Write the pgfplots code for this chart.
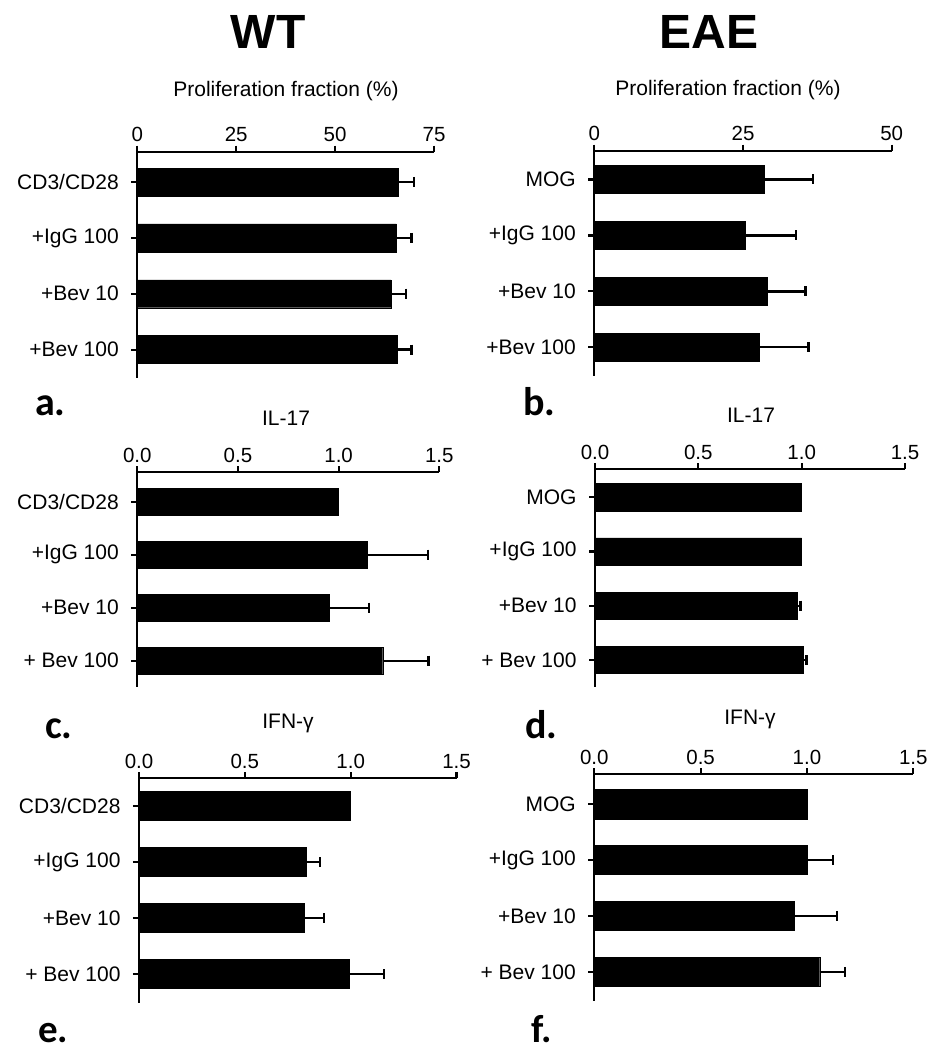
\documentclass[border=0pt]{standalone}
\usepackage{pgfplots}
\pgfplotsset{compat=1.18}
\usepackage{fontspec}
\setmainfont{Liberation Sans}
\newfontfamily\letterfont{Carlito}
\newcommand\labfont{\fontsize{21}{25}\selectfont}
\newcommand\tickfont{\fontsize{20.5}{24}\selectfont}
\begin{document}
\begin{tikzpicture}[x=1pt,y=1pt]
\useasboundingbox (0,0) rectangle (931,-1051);
\pgfplotsset{
  panel/.style={
    scale only axis, xbar, y dir=reverse,
    axis x line=top, axis y line=left,
    axis line style={line width=2.2pt,-},
    tick style={line width=2.2pt,black},
    tick align=outside, major tick length=6pt,
    minor tick num=0,
    ytick={0,1,2,3},
    xmin=0,
    xticklabel style={font=\tickfont},
    yticklabel style={font=\labfont, xshift=-9pt},
    /pgf/number format/assume math mode=true,
    bar width=0.5, bar shift=0pt,
    anchor=north west,
    clip=false,
  },
  bars/.style={fill=black, draw=black, line width=0.4pt, bar shift=0pt},
  eb/.style={fill=black, draw=black, line width=0.4pt, bar shift=0pt,
    error bars/x dir=plus, error bars/x explicit,
    error bars/error bar style={line width=2.4pt,black,solid},
    error bars/error mark=|,
    error bars/error mark options={rotate=0,line width=2.4pt,black,mark size=5pt}},
}
% ---------------- a ----------------
\begin{axis}[panel, at={(137.3pt,-151.7pt)}, width=296.7pt, height=226.3pt,
  xmax=75, xtick={0,25,50,75}, ymin=-0.542, ymax=3.508,
  yticklabels={CD3/CD28,+IgG 100,+Bev 10,+Bev 100}]
\addplot[eb] coordinates {(65.9,0) +- (4.0,0) (65.5,1) +- (3.8,0) (64.1,2) +- (3.8,0) (65.8,3) +- (3.5,0)};
\end{axis}
% ---------------- b ----------------
\begin{axis}[panel, at={(594.3pt,-150.7pt)}, width=297.4pt, height=225.3pt,
  xmax=50, xtick={0,25,50}, ymin=-0.515, ymax=3.515,
  yticklabels={MOG,+IgG 100,+Bev 10,+Bev 100}]
\addplot[eb] coordinates {(28.6,0) +- (8.2,0) (25.4,1) +- (8.5,0) (29.0,2) +- (6.5,0) (27.7,3) +- (8.3,0)};
\end{axis}
% ---------------- c ----------------
\begin{axis}[panel, at={(137.3pt,-472.3pt)}, width=302pt, height=215pt,
  xmax=1.5, xtick={0,0.5,1,1.5}, ymin=-0.555, ymax=3.502,
  xticklabel style={/pgf/number format/.cd,fixed,fixed zerofill,precision=1},
  yticklabels={CD3/CD28,+IgG 100,+Bev 10,+ Bev 100}]
\addplot[bars] coordinates {(1.0,0)};
\addplot[eb] coordinates {(1.14,1) +- (0.305,0) (0.952,2) +- (0.2,0) (1.219,3) +- (0.227,0)};
\end{axis}
% ---------------- d ----------------
\begin{axis}[panel, at={(595pt,-469.3pt)}, width=310pt, height=218pt,
  xmax=1.5, xtick={0,0.5,1,1.5}, ymin=-0.514, ymax=3.503,
  xticklabel style={/pgf/number format/.cd,fixed,fixed zerofill,precision=1},
  yticklabels={MOG,+IgG 100,+Bev 10,+ Bev 100}]
\addplot[bars] coordinates {(1.0,0) (1.0,1)};
\addplot[eb] coordinates {(0.979,2) +- (0.016,0) (1.008,3) +- (0.016,0)};
\end{axis}
% ---------------- e ----------------
\begin{axis}[panel, at={(139pt,-778.3pt)}, width=317.5pt, height=225pt,
  xmax=1.5, xtick={0,0.5,1,1.5}, ymin=-0.495, ymax=3.523, bar width=0.52,
  xticklabel style={/pgf/number format/.cd,fixed,fixed zerofill,precision=1},
  yticklabels={CD3/CD28,+IgG 100,+Bev 10,+ Bev 100}]
\addplot[bars] coordinates {(1.0,0)};
\addplot[eb] coordinates {(0.792,1) +- (0.063,0) (0.779,2) +- (0.095,0) (0.994,3) +- (0.163,0)};
\end{axis}
% ---------------- f ----------------
\begin{axis}[panel, at={(594.3pt,-774pt)}, width=319pt, height=226.7pt,
  xmax=1.5, xtick={0,0.5,1,1.5}, ymin=-0.54, ymax=3.517, bar width=0.52,
  xticklabel style={/pgf/number format/.cd,fixed,fixed zerofill,precision=1},
  yticklabels={MOG,+IgG 100,+Bev 10,+ Bev 100}]
\addplot[bars] coordinates {(1.0,0)};
\addplot[eb] coordinates {(1.0,1) +- (0.122,0) (0.942,2) +- (0.199,0) (1.06,3) +- (0.12,0)};
\end{axis}
% ---------------- titles and labels ----------------
\node[anchor=base] at (268pt,-48.3pt) {\fontsize{48}{54}\selectfont\bfseries WT};
\node[anchor=base] at (709pt,-48.3pt) {\fontsize{48}{54}\selectfont\bfseries EAE};
\node[anchor=base] at (286pt,-96.5pt) {\labfont Proliferation fraction (\%)};
\node[anchor=base] at (728pt,-96pt) {\labfont Proliferation fraction (\%)};
\node[anchor=base] at (286pt,-425pt) {\labfont IL-17};
\node[anchor=base] at (751pt,-422.7pt) {\labfont IL-17};
\node[anchor=base] at (288pt,-728pt) {\labfont IFN-γ};
\node[anchor=base] at (750pt,-724pt) {\labfont IFN-γ};
\node[anchor=base west, inner sep=0pt] at (35pt,-415pt) {\letterfont\bfseries\fontsize{40}{44}\selectfont a.};
\node[anchor=base west, inner sep=0pt] at (523pt,-415pt) {\letterfont\bfseries\fontsize{40}{44}\selectfont b.};
\node[anchor=base west, inner sep=0pt] at (45pt,-738pt) {\letterfont\bfseries\fontsize{40}{44}\selectfont c.};
\node[anchor=base west, inner sep=0pt] at (525pt,-738pt) {\letterfont\bfseries\fontsize{40}{44}\selectfont d.};
\node[anchor=base west, inner sep=0pt] at (38pt,-1042pt) {\letterfont\bfseries\fontsize{39}{44}\selectfont e.};
\node[anchor=base west, inner sep=0pt] at (531pt,-1042pt) {\letterfont\bfseries\fontsize{39}{44}\selectfont f.};
\end{tikzpicture}
\end{document}
